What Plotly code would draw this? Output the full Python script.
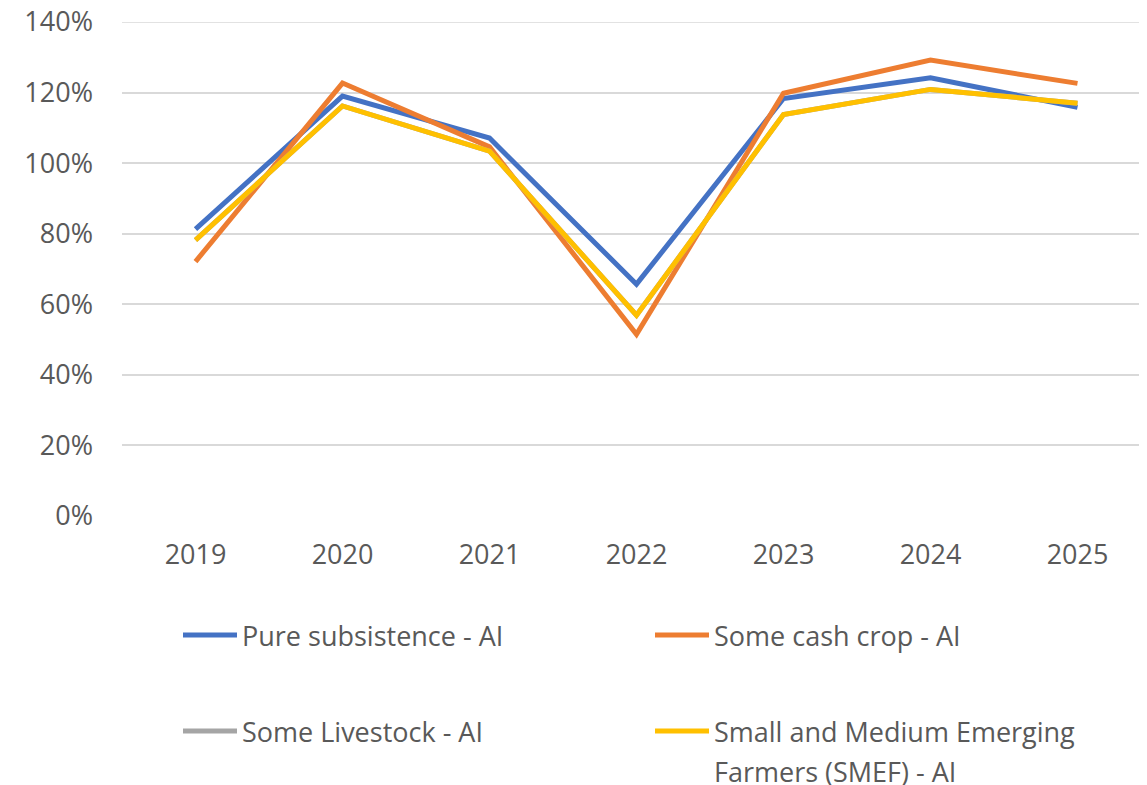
import plotly.graph_objects as go

years = [2019, 2020, 2021, 2022, 2023, 2024, 2025]
pure_subsistence = [0.813, 1.190, 1.071, 0.657, 1.183, 1.242, 1.158]
some_cash_crop = [0.721, 1.227, 1.046, 0.515, 1.198, 1.292, 1.226]
some_livestock = [0.782, 1.162, 1.034, 0.569, 1.138, 1.209, 1.170]
smef = [0.782, 1.162, 1.034, 0.569, 1.138, 1.209, 1.170]

names = ["Pure subsistence - AI", "Some cash crop - AI", "Some Livestock - AI",
         "Small and Medium Emerging Farmers (SMEF) - AI"]
legend_lines = [["Pure subsistence - AI"], ["Some cash crop - AI"], ["Some Livestock - AI"],
                ["Small and Medium Emerging", "Farmers (SMEF) - AI"]]
colors = ["#4472C4", "#ED7D31", "#A5A5A5", "#FFC000"]
series = [pure_subsistence, some_cash_crop, some_livestock, smef]
y_ticks = [0, 0.2, 0.4, 0.6, 0.8, 1.0, 1.2, 1.4]

FONT = "Open Sans"
TXT = "#595959"

OFF = 8  # default page body margin
W, H = 1147 - OFF, 785 - OFF
# page-pixel plot edges
PL, PR, PT, PB = 122, 1147, 22, 516
L, T = PL - OFF, PT - OFF
R = 0
B = H - (PB - OFF)
pw = W - L - R
ph = H - T - B

fig = go.Figure()
for name, vals, col in zip(names, series, colors):
    fig.add_trace(go.Scatter(x=years, y=vals, name=name, mode="lines",
                             line=dict(color=col, width=5), showlegend=False,
                             cliponaxis=False))


def px_x(p):
    return (p - PL) / pw


def px_y(p):
    return (PB - p) / ph


# manual legend: positions in page pixels
legend_pos = [(183, 635), (655, 635), (183, 731), (655, 731)]
for (lx, ly), col, lines in zip(legend_pos, colors, legend_lines):
    fig.add_shape(type="line", xref="paper", yref="paper",
                  x0=px_x(lx), x1=px_x(lx + 54), y0=px_y(ly), y1=px_y(ly),
                  line=dict(color=col, width=5))
    for i, t in enumerate(lines):
        fig.add_annotation(xref="paper", yref="paper", x=px_x(lx + 57), y=px_y(ly + 40 * i),
                           text=t, showarrow=False, xanchor="left", yanchor="middle",
                           font=dict(family=FONT, size=27, color=TXT))

# top gridline drawn explicitly at the plot edge
fig.add_shape(type="line", xref="paper", yref="y", x0=0, x1=1, y0=y_ticks[-1], y1=y_ticks[-1],
              line=dict(color="#D9D9D9", width=1.5), layer="below")

fig.update_layout(
    width=W, height=H,
    margin=dict(l=L, r=R, t=T, b=B, pad=0),
    paper_bgcolor="white", plot_bgcolor="white",
    font=dict(family=FONT, size=27, color=TXT),
    xaxis=dict(range=[2018.5, 2018.5 + pw / 147.0], tickvals=years,
               ticktext=[str(y) for y in years], showgrid=False, zeroline=False,
               showline=False, ticks="", ticklabelstandoff=20, automargin=False,
               tickfont=dict(family=FONT, size=27, color=TXT)),
    yaxis=dict(range=[0, 1.4], tickvals=y_ticks, tickformat=".0%",
               showgrid=True, gridcolor="#D9D9D9", gridwidth=1.5, zeroline=False,
               showline=False, ticks="", ticklabelstandoff=28, automargin=False,
               ticklabeloverflow="allow",
               tickfont=dict(family=FONT, size=27, color=TXT)),
)

fig.write_html("out.html")
